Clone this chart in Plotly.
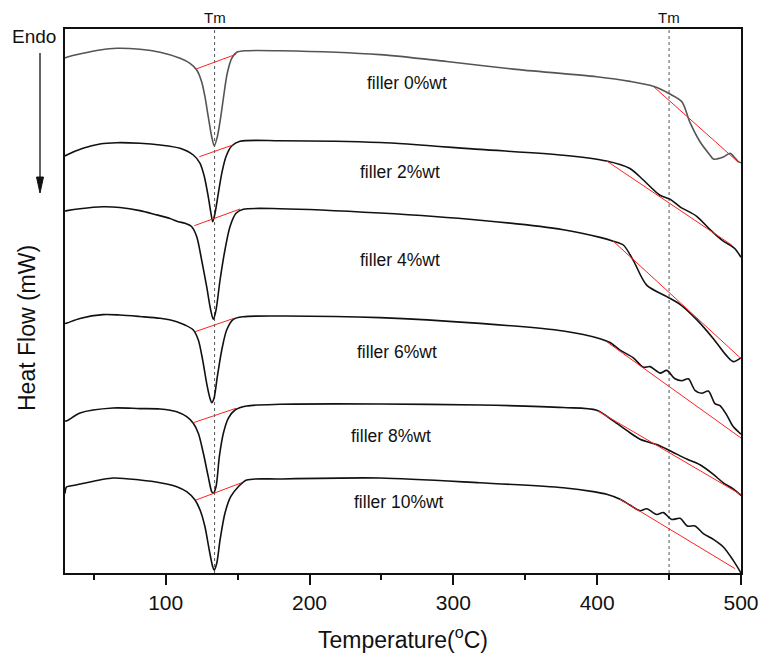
import plotly.graph_objects as go

# ---------------- data (temperature in °C, heat flow in arbitrary mW offset units) -------------
labels = ["filler 0%wt", "filler 2%wt", "filler 4%wt", "filler 6%wt", "filler 8%wt", "filler 10%wt"]

t0 = [30, 31.2, 42.5, 54.3, 65.9, 82.1, 96.1, 110, 116.9, 121.6, 125.0, 127.3, 129.6, 132.0, 133.8,
      135.9, 138.3, 140.6, 142.8, 145.9, 149.4, 156.3, 179.5, 249, 295.4, 341.7, 399.7, 422.8, 439.0,
      450.6, 458.8, 464.6, 471.5, 478.5, 480.8, 487.7, 492.4, 495.2, 498.1, 500]
h0 = [51.5, 51.57, 51.97, 52.3, 52.47, 52.37, 52.07, 51.47, 50.97, 50.3, 49.13, 47.63, 45.63, 43.63, 42.7,
      43.63, 45.63, 47.97, 49.97, 51.47, 52.07, 52.23, 52.23, 51.84, 51.15, 50.39, 49.62, 49.16, 48.67,
      47.9, 47.14, 45.03, 43.12, 41.78, 41.4, 41.6, 41.98, 41.6, 41.13, 41.02]

t2 = [30, 31.2, 42.5, 54.3, 65.9, 82.1, 96.1, 110, 119.2, 123.9, 126.9, 129.6, 131.5, 132.7, 134.3,
      136.6, 139.0, 141.9, 145.9, 151.7, 179.5, 249, 318.5, 376.5, 406.6, 422.8, 432.1, 443.7, 450.6,
      457.6, 469.2, 478.5, 487.7, 492.4, 495.8, 500]
h2 = [41.7, 41.8, 42.47, 42.9, 43.03, 42.97, 42.8, 42.47, 41.8, 40.97, 39.63, 37.63, 35.97, 35.13, 35.97,
      37.97, 39.97, 41.63, 42.7, 43.17, 43.23, 43.05, 42.36, 41.78, 41.2, 40.45, 39.3, 37.77, 37.39,
      36.62, 35.67, 34.33, 33.18, 32.8, 32.42, 31.58]

t4 = [30, 31.4, 40.4, 56.4, 68.2, 82.1, 92.6, 103, 108.8, 113.4, 118.1, 121.6, 125.0, 128.5, 131.3, 133.1,
      135, 137.8, 141.2, 144.7, 148.9, 154.0, 179.5, 249, 318.5, 376.5, 402, 411.2, 418.2, 425.1, 434.4,
      448.4, 457.6, 469.2, 480.8, 490.1, 494.6, 500]
h4 = [36.2, 36.24, 36.43, 36.62, 36.55, 36.24, 35.86, 35.45, 35.13, 34.97, 34.63, 33.63, 31.3, 28.63, 26.3, 25.37,
      26.3, 29.3, 32.3, 34.63, 35.97, 36.37, 36.43, 36.0, 35.28, 34.33, 33.56, 33.18, 32.8, 31.27, 28.79,
      27.64, 26.87, 25.34, 23.43, 21.71, 21.14, 21.52]

t6 = [30, 31.4, 40.4, 56.4, 68.2, 82.1, 96.1, 107.7, 113.4, 119.2, 122.7, 125.7, 128.5, 130.8, 132.0, 133.6,
      135.9, 139.0, 142.4, 147.0, 154.0, 179.5, 249, 318.5, 376.5, 402, 408.9, 415.9, 425.1, 432.1, 436.7,
      443.7, 448.4, 454.1, 458.8, 463.4, 468.0, 472.7, 477.3, 481.9, 485.4, 490.1, 494.6, 500]
h6 = [24.95, 25.0, 25.46, 25.84, 25.8, 25.65, 25.47, 25.13, 24.8, 24.3, 23.3, 21.3, 18.97, 17.47, 17.03, 17.47,
      19.63, 22.3, 24.3, 25.37, 25.63, 25.7, 25.54, 24.96, 24.2, 23.43, 23.05, 22.29, 21.52, 20.57, 20.64,
      19.99, 20.26, 19.42, 19.23, 19.42, 18.27, 17.97, 18.2, 16.94, 16.74, 15.79, 14.64, 13.88]

t8 = [30, 31.4, 40.4, 63.4, 82.1, 96.1, 107.7, 114.6, 119.2, 122.7, 126.2, 129.6, 132.0, 133.1, 135,
      137.3, 140.1, 143.5, 148.2, 156.3, 179.5, 249, 318.5, 376.5, 399.7, 411.2, 420.5, 429.8, 441.4,
      450.6, 462.3, 471.5, 480.8, 487.7, 494.6, 500]
h8 = [15.2, 15.22, 16.0, 16.5, 16.44, 16.4, 16.13, 15.63, 14.97, 13.97, 11.97, 9.63, 8.13, 7.97, 8.63,
      11.63, 13.97, 15.47, 16.3, 16.7, 16.87, 16.9, 16.8, 16.55, 16.28, 15.21, 14.26, 13.38, 12.84,
      12.23, 11.39, 10.82, 9.86, 9.02, 8.41, 7.76]

t10 = [30, 31.0, 33.5, 40.4, 63.4, 82.1, 96.1, 107.7, 114.6, 120.4, 123.9, 127.3, 130.3, 132.7, 133.8,
       135.5, 137.8, 141.2, 145.2, 150.5, 156.3, 179.5, 249, 318.5, 376.5, 397.3, 406.6, 415.9, 422.8,
       429.8, 434.4, 441.4, 446.0, 451.8, 457.6, 462.7, 468.0, 473.8, 480.8, 487.7, 494.6, 500]
h10 = [7.95, 8.6, 8.7, 8.9, 9.5, 9.3, 9.03, 8.63, 8.13, 7.3, 6.3, 4.63, 2.3, 0.63, 0.3,
       0.97, 3.3, 5.97, 7.63, 8.63, 9.3, 9.4, 9.5, 9.02, 8.52, 8.14, 7.87, 7.38, 6.8,
       6.23, 6.42, 5.85, 6.04, 5.35, 5.47, 4.7, 4.7, 3.94, 3.36, 2.6, 1.26, 0.0]

temps = [t0, t2, t4, t6, t8, t10]
flows = [h0, h2, h4, h6, h8, h10]

# tangent (baseline) segments: melting onset and decomposition, [T1, T2], [H1, H2]
melt_t = [[121.1, 148.9], [123.4, 146.6], [119.9, 151.7], [120.4, 147.5], [119.2, 148.9], [121.1, 152.9]]
melt_h = [[50.4, 51.87], [41.63, 42.8], [34.73, 36.4], [24.13, 25.47], [15.03, 16.47], [7.3, 9.03]]
dec_t = [[439.0, 497.2], [406.6, 493.5], [411.2, 500], [406.6, 500], [400.6, 502.8], [415.9, 495.8]]
dec_h = [[48.67, 41.2], [41.2, 32.8], [33.18, 21.45], [23.13, 13.5], [16.2, 7.6], [7.38, 0.44]]

tm_values = [134, 450]
x_ticks = [100, 200, 300, 400, 500]
x_minor = [50, 150, 250, 350, 450]

# ---------------- figure ----------------
FONT = "Arial, Liberation Sans, sans-serif"
fig = go.Figure()

curve_colors = ["#555555", "#111111", "#111111", "#111111", "#111111", "#111111"]
for i in range(len(labels)):
    fig.add_trace(go.Scatter(x=temps[i], y=flows[i], mode="lines",
                             line=dict(color=curve_colors[i], width=1.6, shape="spline", smoothing=0.8),
                             showlegend=False, hoverinfo="skip"))
    fig.add_trace(go.Scatter(x=melt_t[i], y=melt_h[i], mode="lines",
                             line=dict(color="#ff2020", width=1), showlegend=False, hoverinfo="skip"))
    fig.add_trace(go.Scatter(x=dec_t[i], y=dec_h[i], mode="lines",
                             line=dict(color="#ff2020", width=1), showlegend=False, hoverinfo="skip"))

for tm in tm_values:
    fig.add_shape(type="line", xref="x", yref="paper", x0=tm, x1=tm, y0=0, y1=1,
                  line=dict(color="#555555", width=1, dash="3px,3px"), layer="below")
    fig.add_annotation(x=tm, y=1, xref="x", yref="paper", text="Tm", showarrow=False,
                       yanchor="bottom", yshift=1, font=dict(family=FONT, size=15, color="#111"))

label_pos = [(297, 49.05), (291.9, 40.06), (291.9, 31.27), (290.2, 22.1), (286.1, 13.7), (294.7, 7.1)]
for lab, (lx, ly) in zip(labels, label_pos):
    fig.add_annotation(x=lx, y=ly, xref="x", yref="y", text=lab, showarrow=False,
                       xanchor="right", yanchor="middle", font=dict(family=FONT, size=17.5, color="#111"))

# Endo + downward arrow (drawn as shapes in paper coordinates)
fig.add_annotation(x=-0.0459, y=0.987, xref="paper", yref="paper", text="Endo", showarrow=False,
                   xanchor="center", yanchor="middle", font=dict(family=FONT, size=19, color="#111"))
fig.add_shape(type="line", xref="paper", yref="paper", x0=-0.03698, x1=-0.03698, y0=0.9559, y1=0.7224,
              line=dict(color="#111", width=1.3))
fig.add_shape(type="path", xref="paper", yref="paper",
              path="M -0.04216 0.7279 L -0.03180 0.7279 L -0.03698 0.6985 Z",
              fillcolor="#111", line=dict(color="#111", width=1))

# axis titles
fig.add_annotation(x=-0.0562, y=0.4504, xref="paper", yref="paper", text="Heat Flow (mW)",
                   textangle=-90, showarrow=False, xanchor="center", yanchor="middle",
                   font=dict(family=FONT, size=23, color="#111"))
fig.add_annotation(x=0.5, y=-0.1195, xref="paper", yref="paper", text="Temperature(<sup>o</sup>C)",
                   showarrow=False, xanchor="center", yanchor="middle",
                   font=dict(family=FONT, size=23, color="#111"))

fig.update_xaxes(range=[30, 500], tickvals=x_ticks, ticks="outside", ticklen=10, tickwidth=2,
                 tickcolor="#111", showline=True, linewidth=2, linecolor="#111", mirror=True,
                 showgrid=False, zeroline=False, automargin=False,
                 tickfont=dict(family=FONT, size=21, color="#111"),
                 minor=dict(tickvals=x_minor, ticks="outside", ticklen=5, tickwidth=2, tickcolor="#111"))
fig.update_yaxes(range=[0, 54.4], showticklabels=False, ticks="", showline=True, linewidth=2,
                 linecolor="#111", mirror=True, showgrid=False, zeroline=False, automargin=False)

fig.update_layout(width=761, height=660, margin=dict(l=65, r=20, t=29, b=87, autoexpand=False),
                  plot_bgcolor="white", paper_bgcolor="white", showlegend=False)

fig.write_html("out.html", config={"displayModeBar": False},
               post_script="document.body.style.margin='0px';document.body.style.overflow='hidden';")
